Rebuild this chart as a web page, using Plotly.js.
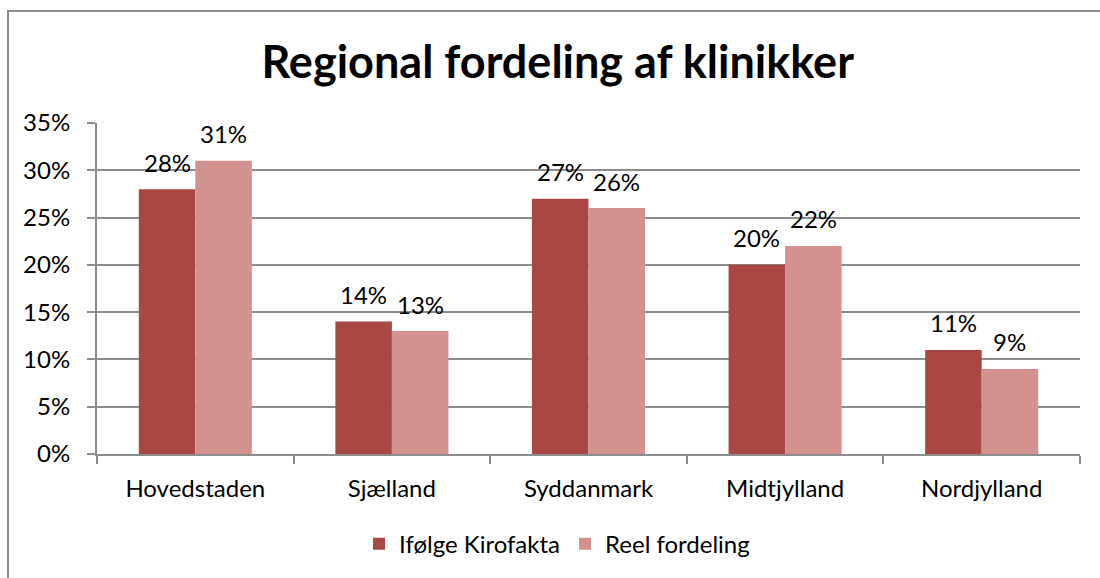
<!DOCTYPE html>
<html>
<head>
<meta charset="utf-8">
<script src="https://cdn.plot.ly/plotly-3.0.1.min.js"></script>
<style>
html,body{margin:0;padding:0;background:#fff;}
#wrap{position:relative;width:1100px;height:578px;overflow:hidden;}
#chart{position:absolute;left:0;top:0;width:1100px;height:578px;}
#frame{position:absolute;left:7px;top:10px;width:1200px;height:700px;border:2px solid #8c8c8c;box-sizing:border-box;pointer-events:none;}
</style>
</head>
<body>
<div id="wrap"><div id="chart"></div><div id="frame"></div></div>
<script>
const categories = ["Hovedstaden", "Sjælland", "Syddanmark", "Midtjylland", "Nordjylland"];
const kirofakta = [0.28, 0.14, 0.27, 0.20, 0.11];
const reel = [0.31, 0.13, 0.26, 0.22, 0.09];
const seriesNames = ["Ifølge Kirofakta", "Reel fordeling"];
const seriesColors = ["#A84744", "#D39290"];
const yTicks = [0, 0.05, 0.10, 0.15, 0.20, 0.25, 0.30, 0.35];
const yTickLabels = ["0%", "5%", "10%", "15%", "20%", "25%", "30%", "35%"];

const FONT = "Lato, 'Open Sans', sans-serif";
const FS = 24;
function lbl(v){ return Math.round(v*100) + "%"; }

const W = 1100, H = 578;
const margin = {l:97, r:20, t:123, b:122};
const bargap = 0.425;
const plotW = W - margin.l - margin.r;
const catW = plotW / categories.length;
const barW = catW * (1 - bargap) / 2;

const series = [kirofakta, reel];
const traces = series.map((vals, i) => ({
  type:"bar", name:seriesNames[i], x:categories, y:vals,
  marker:{color:seriesColors[i], line:{width:0}}
}));

const annotations = [];
series.forEach((vals, i) => {
  const shift = (i === 0 ? -1 : 1) * barW / 2;
  vals.forEach((v, j) => {
    annotations.push({
      x:categories[j], y:v, xref:"x", yref:"y", text:lbl(v), showarrow:false,
      xanchor:"center", yanchor:"middle", xshift:shift, yshift:27,
      font:{family:FONT, size:FS, color:"#000"}
    });
  });
});

const layout = {
  width:W, height:H, margin:margin,
  paper_bgcolor:"#fff", plot_bgcolor:"#fff",
  title:{text:"<b>Regional fordeling af klinikker</b>", x:0.507, xanchor:"center", y:0.893, yanchor:"middle",
         font:{family:FONT, size:45, color:"#000"}},
  barmode:"group", bargap:bargap, bargroupgap:0,
  xaxis:{type:"category", showline:true, linecolor:"#8c8c8c", linewidth:2,
         ticks:"outside", ticklen:8, tickcolor:"#8c8c8c", tickwidth:2, tickson:"boundaries",
         ticklabelstandoff:12,
         showgrid:false, tickfont:{family:FONT, size:FS, color:"#000"}},
  yaxis:{range:[0,0.35], tickvals:yTicks, ticktext:yTickLabels,
         showline:true, linecolor:"#8c8c8c", linewidth:2,
         ticks:"outside", ticklen:8, tickcolor:"#8c8c8c", tickwidth:2,
         ticklabelstandoff:12,
         showgrid:true, gridcolor:"#8c8c8c", gridwidth:2, zeroline:false,
         tickfont:{family:FONT, size:FS, color:"#000"}},
  annotations:annotations,
  showlegend:true,
  legend:{orientation:"h", x:0.468, xanchor:"center", y:-0.272, yanchor:"middle",
          font:{family:FONT, size:FS, color:"#000"}, itemwidth:30, traceorder:"normal"}
};

Plotly.newPlot("chart", traces, layout, {displayModeBar:false, staticPlot:true});
</script>
</body>
</html>
